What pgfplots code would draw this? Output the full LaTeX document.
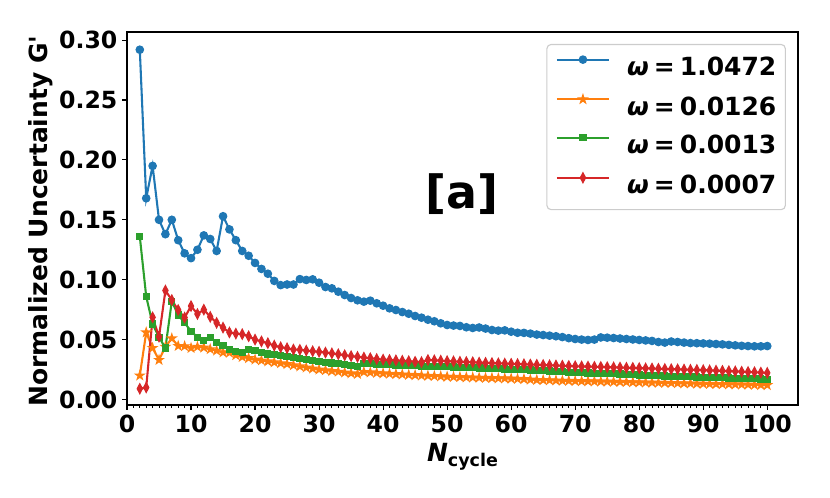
\documentclass[border=0pt]{standalone}
\usepackage{fontspec}
\setmainfont{DejaVu Sans}
\usepackage{pgfplots}
\pgfplotsset{compat=1.18}
\usetikzlibrary{plotmarks}
\definecolor{c0}{HTML}{1F77B4}
\definecolor{c1}{HTML}{FF7F0E}
\definecolor{c2}{HTML}{2CA02C}
\definecolor{c3}{HTML}{D62728}
\pgfdeclareplotmark{fstar}{%
  \pgfpathmoveto{\pgfpointpolar{90}{\pgfplotmarksize}}%
  \pgfpathlineto{\pgfpointpolar{126}{0.382\pgfplotmarksize}}%
  \pgfpathlineto{\pgfpointpolar{162}{\pgfplotmarksize}}%
  \pgfpathlineto{\pgfpointpolar{198}{0.382\pgfplotmarksize}}%
  \pgfpathlineto{\pgfpointpolar{234}{\pgfplotmarksize}}%
  \pgfpathlineto{\pgfpointpolar{270}{0.382\pgfplotmarksize}}%
  \pgfpathlineto{\pgfpointpolar{306}{\pgfplotmarksize}}%
  \pgfpathlineto{\pgfpointpolar{342}{0.382\pgfplotmarksize}}%
  \pgfpathlineto{\pgfpointpolar{18}{\pgfplotmarksize}}%
  \pgfpathlineto{\pgfpointpolar{54}{0.382\pgfplotmarksize}}%
  \pgfpathclose
  \pgfusepathqfillstroke}

\pgfplotstableread{
x y
2 0.292
3 0.168
4 0.195
5 0.150
6 0.138
7 0.150
8 0.133
9 0.122
10 0.118
11 0.125
12 0.137
13 0.134
14 0.124
15 0.153
16 0.142
17 0.133
18 0.124
19 0.120
20 0.114
21 0.109
22 0.105
23 0.099
24 0.0955
25 0.096
26 0.096
27 0.1005
28 0.0998
29 0.1003
30 0.0975
31 0.0939
32 0.0928
33 0.0900
34 0.0872
35 0.0847
36 0.0828
37 0.0817
38 0.0825
39 0.0803
40 0.0783
41 0.0761
42 0.0747
43 0.0730
44 0.0716
45 0.0697
46 0.0683
47 0.0666
48 0.0653
49 0.0636
50 0.0622
51 0.0617
52 0.0614
53 0.0603
54 0.0597
55 0.0601
56 0.0592
57 0.0580
58 0.0575
59 0.0577
60 0.0566
61 0.0557
62 0.0556
63 0.0550
64 0.0542
65 0.0538
66 0.0533
67 0.0528
68 0.0521
69 0.0512
70 0.0505
71 0.0500
72 0.0497
73 0.0500
74 0.0518
75 0.0516
76 0.0513
77 0.0509
78 0.0505
79 0.0501
80 0.0497
81 0.0493
82 0.0489
83 0.0480
84 0.0475
85 0.0484
86 0.0480
87 0.0475
88 0.0471
89 0.0470
90 0.0468
91 0.0466
92 0.0463
93 0.0460
94 0.0456
95 0.0452
96 0.0448
97 0.0446
98 0.0444
99 0.0444
100 0.0446
}\blue

\pgfplotstableread{
x y
2 0.020
3 0.056
4 0.043
5 0.033
6 0.044
7 0.051
8 0.0447
9 0.0445
10 0.043
11 0.044
12 0.0433
13 0.042
14 0.0408
15 0.0393
16 0.039
17 0.037
18 0.0355
19 0.0345
20 0.0333
21 0.0326
22 0.0318
23 0.0310
24 0.0303
25 0.0296
26 0.0286
27 0.0276
28 0.0267
29 0.0258
30 0.0250
31 0.0244
32 0.0238
33 0.0232
34 0.0225
35 0.0219
36 0.0213
37 0.0230
38 0.0226
39 0.0222
40 0.0218
41 0.0215
42 0.0212
43 0.0209
44 0.0206
45 0.0203
46 0.0200
47 0.0198
48 0.0196
49 0.0193
50 0.0190
51 0.0189
52 0.0187
53 0.0185
54 0.0184
55 0.0182
56 0.0180
57 0.0179
58 0.0177
59 0.0176
60 0.0174
61 0.0172
62 0.0170
63 0.0166
64 0.0163
65 0.0162
66 0.0161
67 0.0159
68 0.0157
69 0.0156
70 0.0154
71 0.0153
72 0.0152
73 0.0151
74 0.0150
75 0.0149
76 0.0148
77 0.0147
78 0.0146
79 0.0144
80 0.0143
81 0.0142
82 0.0141
83 0.0140
84 0.0139
85 0.0138
86 0.0136
87 0.0135
88 0.0134
89 0.0132
90 0.0131
91 0.0130
92 0.0129
93 0.0128
94 0.0127
95 0.0126
96 0.0125
97 0.0124
98 0.0122
99 0.0121
100 0.0120
}\orange

\pgfplotstableread{
x y
2 0.136
3 0.086
4 0.063
5 0.052
6 0.043
7 0.082
8 0.0705
9 0.064
10 0.057
11 0.052
12 0.049
13 0.052
14 0.0474
15 0.045
16 0.042
17 0.040
18 0.039
19 0.042
20 0.041
21 0.039
22 0.038
23 0.0375
24 0.0368
25 0.0360
26 0.0350
27 0.0342
28 0.0333
29 0.0326
30 0.0318
31 0.0312
32 0.0305
33 0.0300
34 0.0292
35 0.0285
36 0.0277
37 0.0300
38 0.0298
39 0.0295
40 0.0293
41 0.0290
42 0.0288
43 0.0285
44 0.0283
45 0.0281
46 0.0279
47 0.0278
48 0.0276
49 0.0275
50 0.0273
51 0.0271
52 0.0269
53 0.0267
54 0.0265
55 0.0262
56 0.0260
57 0.0258
58 0.0256
59 0.0254
60 0.0252
61 0.0250
62 0.0248
63 0.0246
64 0.0243
65 0.0240
66 0.0237
67 0.0234
68 0.0231
69 0.0228
70 0.0226
71 0.0224
72 0.0222
73 0.0220
74 0.0218
75 0.0216
76 0.0214
77 0.0212
78 0.0210
79 0.0207
80 0.0205
81 0.0203
82 0.0201
83 0.0199
84 0.0197
85 0.0195
86 0.0193
87 0.0191
88 0.0189
89 0.0187
90 0.0186
91 0.0184
92 0.0183
93 0.0181
94 0.0179
95 0.0178
96 0.0176
97 0.0174
98 0.0172
99 0.0171
100 0.0169
}\green

\pgfplotstableread{
x y
2 0.009
3 0.010
4 0.0686
5 0.0524
6 0.0910
7 0.0830
8 0.0747
9 0.0683
10 0.0780
11 0.0714
12 0.0750
13 0.0690
14 0.0640
15 0.0600
16 0.0560
17 0.0550
18 0.0545
19 0.0528
20 0.0500
21 0.0485
22 0.0470
23 0.0450
24 0.0436
25 0.0428
26 0.0417
27 0.0415
28 0.0408
29 0.0403
30 0.0398
31 0.0392
32 0.0385
33 0.0378
34 0.0370
35 0.0362
36 0.0356
37 0.0350
38 0.0345
39 0.0338
40 0.0333
41 0.0330
42 0.0327
43 0.0323
44 0.0320
45 0.0315
46 0.0312
47 0.0330
48 0.0327
49 0.0324
50 0.0320
51 0.0318
52 0.0315
53 0.0313
54 0.0311
55 0.0308
56 0.0306
57 0.0304
58 0.0302
59 0.0300
60 0.0298
61 0.0296
62 0.0294
63 0.0292
64 0.0290
65 0.0288
66 0.0286
67 0.0284
68 0.0282
69 0.0280
70 0.0278
71 0.0276
72 0.0275
73 0.0273
74 0.0272
75 0.0270
76 0.0268
77 0.0267
78 0.0265
79 0.0264
80 0.0262
81 0.0260
82 0.0259
83 0.0257
84 0.0255
85 0.0253
86 0.0252
87 0.0250
88 0.0248
89 0.0247
90 0.0245
91 0.0243
92 0.0241
93 0.0239
94 0.0237
95 0.0235
96 0.0232
97 0.0230
98 0.0228
99 0.0225
100 0.0222
}\red

\begin{document}
\begin{tikzpicture}
\useasboundingbox (-91.44pt,-66.96pt) rectangle (506.16pt,291.6pt);
\begin{axis}[
  at={(0pt,0pt)}, anchor=south west,
  scale only axis, width=483.12pt, height=268.56pt,
  xmin=0, xmax=104.8, ymin=-0.0046, ymax=0.3068,
  axis line style={line width=0.8pt},
  xtick={0,10,...,100},
  minor x tick num=9,
  ytick={0,0.05,0.10,0.15,0.20,0.25,0.30},
  tick pos=left, tick align=outside,
  major tick length=3.5pt, minor tick length=2pt,
  every major tick/.append style={line width=0.8pt, black},
  every minor tick/.append style={line width=0.6pt, black},
  /pgf/number format/assume math mode=true,
  yticklabel style={/pgf/number format/fixed, /pgf/number format/fixed zerofill, /pgf/number format/precision=2},
  tick label style={font=\fontsize{17}{20}\selectfont\bfseries, inner sep=3.2pt},
  every axis y label/.style={at={(axis description cs:-0.1192,0.493)}, rotate=90, anchor=base},
  every axis x label/.style={at={(axis description cs:0.5,-0.1528)}, anchor=base},
  ylabel={\fontsize{18}{21}\selectfont\bfseries Normalized Uncertainty G\textquotesingle},
  xlabel={\fontsize{18}{21}\selectfont\bfseries\textit{N}\raisebox{-2.9pt}{\fontsize{12.6}{14}\selectfont cycle}},
  legend cell align=left,
  legend image code/.code={\draw[mark repeat=2,mark phase=2] plot coordinates {(0pt,6.6pt) (18.7pt,6.6pt) (37.4pt,6.6pt)};},
  legend style={at={(0.982,0.968)}, anchor=north east, draw=black!20, line width=0.8pt, rounded corners=3pt,
    font=\fontsize{18}{21}\selectfont\bfseries, inner xsep=6.5pt, inner ysep=8.2pt, row sep=10.6pt,
    nodes={inner sep=0pt, text height=13.1pt, text depth=3.2pt}, /tikz/every odd column/.style={column sep=12.4pt}},
]
\addplot[c0, line width=1.5pt, mark=*, mark size=2.7pt, mark options={solid, line width=0.8pt, fill=c0}] table[x=x,y=y] {\blue};
\addlegendentry{\textit{ω}\hspace{0.2em}=\hspace{0.2em}1.0472}
\addplot[c1, line width=1.5pt, mark=fstar, mark size=3.2pt, mark options={solid, line width=0.8pt, fill=c1}] table[x=x,y=y] {\orange};
\addlegendentry{\textit{ω}\hspace{0.2em}=\hspace{0.2em}0.0126}
\addplot[c2, line width=1.5pt, mark=square*, mark size=2.2pt, mark options={solid, line width=0.8pt, fill=c2}] table[x=x,y=y] {\green};
\addlegendentry{\textit{ω}\hspace{0.2em}=\hspace{0.2em}0.0013}
\addplot[c3, line width=1.5pt, mark=diamond*, mark size=3.6pt, mark options={solid, line width=0.8pt, fill=c3, xscale=0.7}] table[x=x,y=y] {\red};
\addlegendentry{\textit{ω}\hspace{0.2em}=\hspace{0.2em}0.0007}
\node[font=\fontsize{33}{40}\selectfont\bfseries, inner sep=0pt] at (rel axis cs:0.499,0.566) {[a]};
\end{axis}
\end{tikzpicture}
\end{document}
